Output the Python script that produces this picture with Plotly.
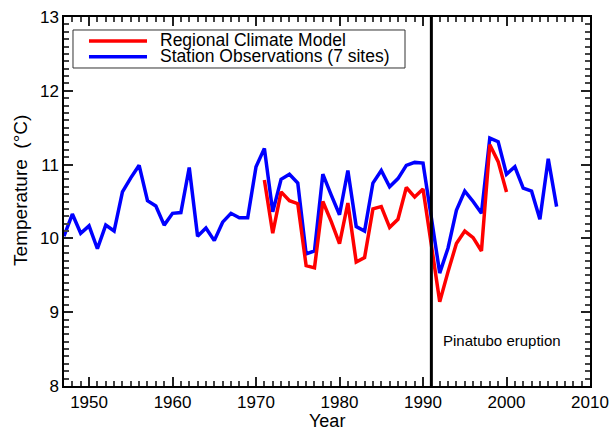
import plotly.graph_objects as go

obs_years = list(range(1947, 2007))
obs_temp = [10.03, 10.33, 10.07, 10.17, 9.86, 10.18, 10.10, 10.63, 10.82, 10.99,
            10.51, 10.44, 10.18, 10.34, 10.35, 10.96, 10.03, 10.14, 9.97, 10.22,
            10.34, 10.28, 10.28, 10.97, 11.22, 10.36, 10.80, 10.87, 10.75, 9.79,
            9.83, 10.87, 10.59, 10.32, 10.92, 10.16, 10.10, 10.75, 10.92, 10.70,
            10.81, 10.99, 11.03, 11.02, 10.28, 9.53, 9.87, 10.38, 10.64, 10.50,
            10.34, 11.36, 11.31, 10.87, 10.97, 10.68, 10.64, 10.26, 11.08, 10.43]
model_years = list(range(1971, 2001))
model_temp = [10.79, 10.07, 10.63, 10.51, 10.47, 9.63, 9.60, 10.50, 10.23, 9.93,
              10.48, 9.68, 9.74, 10.40, 10.43, 10.15, 10.26, 10.69, 10.56, 10.67,
              9.91, 9.14, 9.55, 9.93, 10.10, 10.01, 9.83, 11.27, 11.04, 10.63]
series_names = ["Regional Climate Model", "Station Observations (7 sites)"]
series_colors = ["#ff0000", "#0000ff"]
eruption_year = 1991
eruption_label = "Pinatubo eruption"
x_title = "Year"
y_title = "Temperature  (°C)"

FONT = "Liberation Sans, Arial, sans-serif"

fig = go.Figure()
fig.add_trace(go.Scatter(x=obs_years, y=obs_temp, mode="lines", name=series_names[1],
                         line=dict(color=series_colors[1], width=3.5), showlegend=False))
fig.add_trace(go.Scatter(x=model_years, y=model_temp, mode="lines", name=series_names[0],
                         line=dict(color=series_colors[0], width=3.5), showlegend=False))

fig.add_shape(type="line", xref="x", yref="paper", x0=eruption_year, x1=eruption_year,
              y0=0, y1=1, line=dict(color="black", width=3))

# legend box
fig.add_shape(type="rect", xref="paper", yref="paper", x0=0.0171, x1=0.6483,
              y0=0.8618, y1=0.9648, line=dict(color="#333333", width=1), fillcolor="white")
leg_y = [0.9350, 0.8924]
for name, col, yy in zip(series_names, series_colors, leg_y):
    fig.add_shape(type="line", xref="paper", yref="paper", x0=0.0475, x1=0.1578,
                  y0=yy, y1=yy, line=dict(color=col, width=3.5))
    fig.add_annotation(xref="paper", yref="paper", x=0.1787, y=yy + 0.003, text=name,
                       showarrow=False, xanchor="left", yanchor="middle",
                       font=dict(family=FONT, size=17.5, color="black"))

fig.add_annotation(x=1992.1, y=8.62, xref="x", yref="y", text=eruption_label,
                   showarrow=False, xanchor="left", yanchor="middle",
                   font=dict(family=FONT, size=15, color="black"))

# axis titles
fig.add_annotation(xref="paper", yref="paper", x=0.5, y=-0.094, text=x_title,
                   showarrow=False, xanchor="center", yanchor="middle",
                   font=dict(family=FONT, size=18, color="black"))
fig.add_annotation(xref="paper", yref="paper", x=-0.084, y=0.531, text=y_title,
                   showarrow=False, xanchor="center", yanchor="middle", textangle=-90,
                   font=dict(family=FONT, size=19, color="black"))

fig.update_layout(
    width=609, height=428, margin=dict(l=64, r=19, t=17, b=42, autoexpand=False),
    plot_bgcolor="white", paper_bgcolor="white", showlegend=False,
    xaxis=dict(range=[1947, 2010], dtick=10, tick0=1950, showgrid=False, zeroline=False,
               showline=True, linecolor="black", linewidth=1.5, mirror="allticks",
               ticks="inside", ticklen=9, tickwidth=2, tickcolor="#222222",
               minor=dict(ticks="inside", dtick=1, ticklen=5, tickwidth=1.5, tickcolor="#444444",
                          showgrid=False),
               tickfont=dict(family=FONT, size=17, color="black")),
    yaxis=dict(range=[8, 13], dtick=1, tick0=8, showgrid=False, zeroline=False,
               showline=True, linecolor="black", linewidth=1.5, mirror="allticks",
               ticks="inside", ticklen=9, tickwidth=2, tickcolor="#222222",
               minor=dict(ticks="inside", dtick=0.1, ticklen=5, tickwidth=1.5, tickcolor="#444444",
                          showgrid=False),
               tickfont=dict(family=FONT, size=17, color="black")),
)

fig.write_html("out.html", config={"displayModeBar": False},
               post_script="document.body.style.margin='0px';")
